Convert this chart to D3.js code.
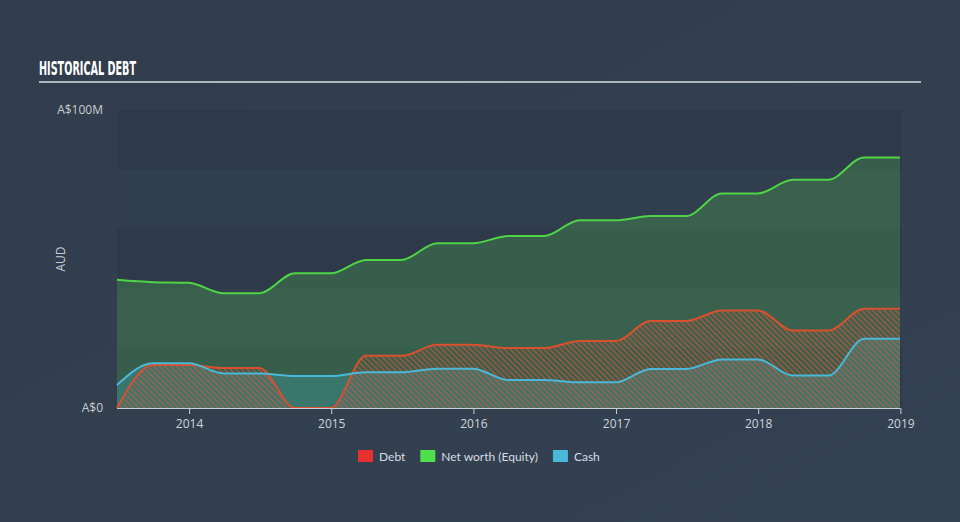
<!DOCTYPE html>
<html>
<head>
<meta charset="utf-8">
<script src="https://cdn.jsdelivr.net/npm/d3@7"></script>
<style>
  html, body { margin: 0; padding: 0; background: #333f4f; }
  svg { display: block; }
</style>
</head>
<body>
<div class="vis"></div>
<script>
// quarterly report dates and values (A$ millions)
const dates = ["2013-06-30", "2013-09-30", "2013-12-31", "2014-03-31", "2014-06-30", "2014-09-30",
  "2014-12-31", "2015-03-31", "2015-06-30", "2015-09-30", "2015-12-31", "2016-03-31", "2016-06-30",
  "2016-09-30", "2016-12-31", "2017-03-31", "2017-06-30", "2017-09-30", "2017-12-31", "2018-03-31",
  "2018-06-30", "2018-09-30", "2018-12-31"];
const equity = [43.0, 42.2, 42.0, 38.5, 38.5, 45.2, 45.2, 49.7, 49.7, 55.3, 55.3, 57.7, 57.7,
  63.0, 63.0, 64.4, 64.4, 72.0, 72.0, 76.6, 76.6, 84.1, 84.1];
const debt = [0, 14.4, 14.4, 13.4, 13.4, 0, 0, 17.5, 17.5, 21.2, 21.2, 20.1, 20.1,
  22.5, 22.5, 29.2, 29.2, 32.7, 32.7, 26.0, 26.0, 33.3, 33.3];
const cash = [7.7, 15.0, 15.0, 11.6, 11.6, 10.7, 10.7, 12.0, 12.0, 13.2, 13.2, 9.4, 9.4,
  8.6, 8.6, 13.1, 13.1, 16.3, 16.3, 10.9, 10.9, 23.2, 23.2];
const yTicks = [0, 100];
const yTickLabels = ["A$0", "A$100M"];
const xTicks = ["2014-01-01", "2015-01-01", "2016-01-01", "2017-01-01", "2018-01-01", "2019-01-01"];
const legendItems = [
  { name: "Debt", color: "#e8312f" },
  { name: "Net worth (Equity)", color: "#4de24d" },
  { name: "Cash", color: "#49b8d9" }
];

const W = 960, H = 522;
const m = { left: 117, right: 60, top: 110, bottom: 114 };
const w = 900 - m.left, h = 408 - m.top;
const parse = d3.timeParse("%Y-%m-%d");

const svg = d3.select(".vis").append("svg").attr("width", W).attr("height", H);

const bg = svg.append("defs");
const grad = bg.append("linearGradient").attr("id", "bgGrad")
  .attr("x1", 0).attr("y1", 0).attr("x2", 1).attr("y2", 1);
grad.append("stop").attr("offset", "0%").attr("stop-color", "#313d4c");
grad.append("stop").attr("offset", "100%").attr("stop-color", "#344152");

const hatch = bg.append("pattern").attr("id", "debtHatch")
  .attr("patternUnits", "userSpaceOnUse").attr("width", 4).attr("height", 4)
  .attr("patternTransform", "rotate(-45)");
hatch.append("rect").attr("width", 1.5).attr("height", 4).attr("fill", "#d0553a").attr("opacity", 0.7);

svg.append("rect").attr("width", W).attr("height", H).attr("fill", "url(#bgGrad)");

// title
svg.append("text")
  .attr("x", 39).attr("y", 75)
  .attr("textLength", 97).attr("lengthAdjust", "spacingAndGlyphs")
  .style("font-family", "'Liberation Sans Narrow', 'DejaVu Sans Condensed', sans-serif")
  .style("font-weight", "bold").style("font-size", "20px")
  .attr("fill", "#ffffff")
  .text("HISTORICAL DEBT");
svg.append("line").attr("x1", 39).attr("x2", 921).attr("y1", 82).attr("y2", 82)
  .attr("stroke", "#aeb5bd").attr("stroke-width", 2);

const g = svg.append("g").attr("transform", `translate(${m.left}, ${m.top})`);

const x = d3.scaleTime().domain([parse(dates[0]), parse(dates[dates.length - 1])]).range([0, w]);
const y = d3.scaleLinear().domain([0, 100]).range([h, 0]);

// alternating bands
const bands = d3.range(0, 100, 20);
g.selectAll("rect.band").data(bands).enter().append("rect")
  .attr("class", "band")
  .attr("x", 0).attr("width", 785)
  .attr("y", d => y(d + 20)).attr("height", d => y(d) - y(d + 20))
  .attr("fill", (d, i) => i % 2 === 0 ? "#2e3a4a" : "#313e4e");

const pts = arr => arr.map((v, i) => ({ d: parse(dates[i]), v: v }));
const area = d3.area().x(p => x(p.d)).y0(y(0)).y1(p => y(p.v)).curve(d3.curveMonotoneX);
const line = d3.line().x(p => x(p.d)).y(p => y(p.v)).curve(d3.curveMonotoneX);

g.append("path").datum(pts(equity)).attr("d", area).attr("fill", "#55d14c").attr("fill-opacity", 0.24);
g.append("path").datum(pts(cash)).attr("d", area).attr("fill", "#44b8c8").attr("fill-opacity", 0.27);
g.append("path").datum(pts(debt)).attr("d", area).attr("fill", "url(#debtHatch)");

g.append("path").datum(pts(debt)).attr("d", line).attr("fill", "none").attr("stroke", "#d8502e").attr("stroke-width", 2);
g.append("path").datum(pts(cash)).attr("d", line).attr("fill", "none").attr("stroke", "#49b8d9").attr("stroke-width", 2);
g.append("path").datum(pts(equity)).attr("d", line).attr("fill", "none").attr("stroke", "#4fd446").attr("stroke-width", 2);

// x axis
const xAxis = g.append("g").attr("class", "x axis").attr("transform", `translate(0, ${h})`)
  .call(d3.axisBottom(x).tickValues(xTicks.map(parse)).tickFormat(d3.timeFormat("%Y")).tickSize(6).tickSizeOuter(0));
xAxis.select(".domain").attr("stroke", "#c8ced6").attr("d", `M0,0.5H${x(parse(xTicks[5]))}`);
xAxis.selectAll(".tick line").attr("stroke", "#c8ced6");
xAxis.selectAll(".tick text").attr("fill", "#d0d4da").attr("dy", "0.9em")
  .style("font-family", "'Open Sans', sans-serif").style("font-size", "12px");

// y labels
g.selectAll("text.ylab").data(yTicks).enter().append("text")
  .attr("class", "ylab")
  .attr("x", -14).attr("y", d => y(d) + 4)
  .attr("text-anchor", "end")
  .attr("fill", "#c8cdd4")
  .style("font-family", "'Open Sans', sans-serif").style("font-size", "12px")
  .text((d, i) => yTickLabels[i]);

svg.append("text")
  .attr("transform", "translate(65, 259) rotate(-90)")
  .attr("text-anchor", "middle")
  .attr("fill", "#c8cdd4")
  .style("font-family", "'Open Sans', sans-serif").style("font-size", "12px")
  .text("AUD");

// legend
const legend = svg.append("g").attr("transform", "translate(358, 450)");
let lx = 0;
legendItems.forEach(it => {
  const item = legend.append("g").attr("transform", `translate(${lx}, 0)`);
  item.append("rect").attr("width", 15).attr("height", 12).attr("fill", it.color);
  const t = item.append("text").attr("x", 21).attr("y", 10.5)
    .attr("fill", "#d8dce2")
    .style("font-family", "Lato, sans-serif").style("font-size", "12px")
    .text(it.name);
  lx += 21 + t.node().getComputedTextLength() + 15;
});
</script>
</body>
</html>
